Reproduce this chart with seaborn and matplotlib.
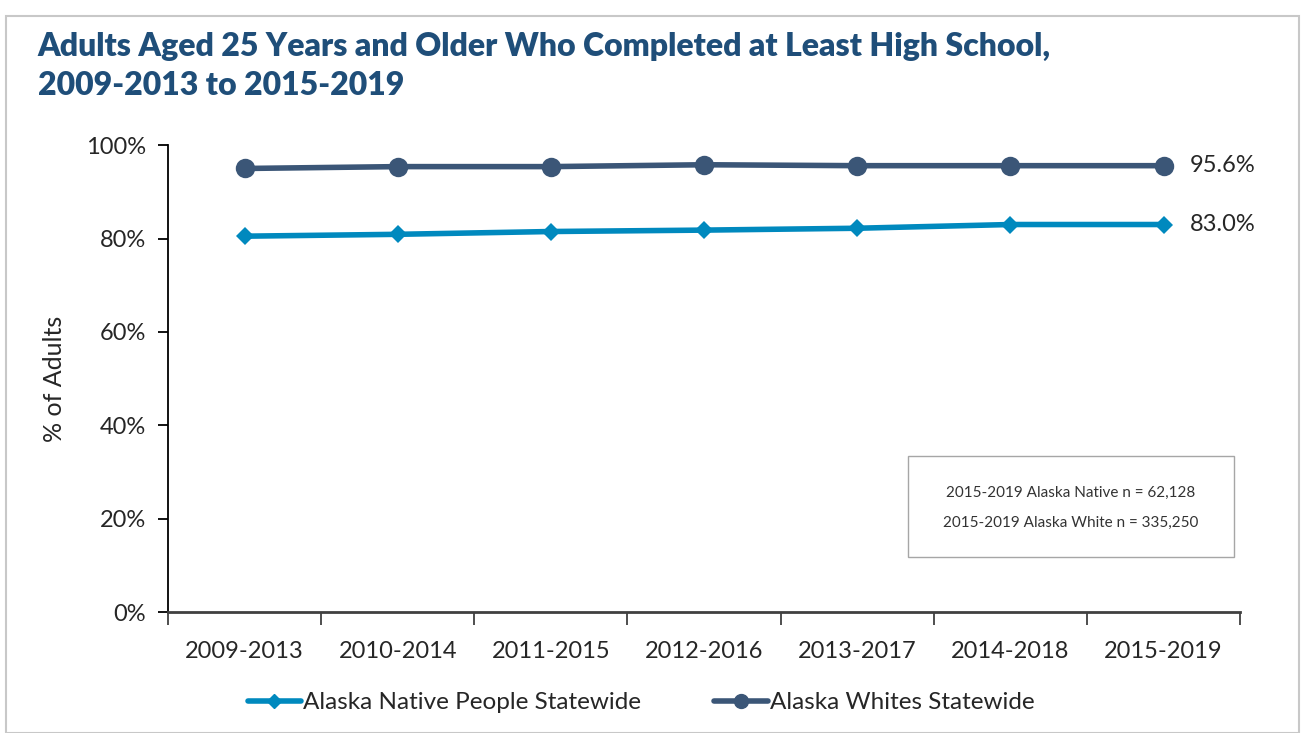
import pandas as pd
import matplotlib.pyplot as plt
import seaborn as sns
from matplotlib.patches import Rectangle
from matplotlib.ticker import FixedLocator, PercentFormatter

# data
periods = ["2009-2013", "2010-2014", "2011-2015", "2012-2016",
           "2013-2017", "2014-2018", "2015-2019"]
native = [80.5, 80.9, 81.5, 81.8, 82.2, 83.0, 83.0]
white = [95.0, 95.4, 95.4, 95.8, 95.6, 95.6, 95.6]
series_names = ["Alaska Native People Statewide", "Alaska Whites Statewide"]
box_lines = ["2015-2019 Alaska Native n = 62,128", "2015-2019 Alaska White n = 335,250"]

df = pd.DataFrame({
    "period": periods * 2,
    "pct": native + white,
    "group": [series_names[0]] * len(periods) + [series_names[1]] * len(periods),
})

sns.set_style("white")
plt.rcParams["font.family"] = ["Lato", "DejaVu Sans"]

colors = {series_names[0]: "#0089BE", series_names[1]: "#3B5677"}

fig = plt.figure(figsize=(13.06, 7.33), dpi=100)
ax = fig.add_axes([0.1286, 0.165, 0.821, 0.637])

sns.lineplot(data=df, x="period", y="pct", hue="group", style="group",
             palette=colors, markers={series_names[0]: "D", series_names[1]: "o"},
             dashes=False, linewidth=4, ax=ax, legend=False, sort=False)

# marker sizes differ per series
ax.lines[0].set_markersize(9)
ax.lines[1].set_markersize(14)
for ln in ax.lines:
    ln.set_markeredgewidth(0)

ax.set_ylim(0, 100)
ax.set_xlim(-0.5, len(periods) - 0.5)
ax.set_yticks(range(0, 101, 20))
ax.yaxis.set_major_formatter(PercentFormatter(decimals=0))
ax.set_xticks(range(len(periods)))
ax.set_xticklabels(periods)
ax.xaxis.set_minor_locator(FixedLocator([i - 0.5 for i in range(len(periods) + 1)]))
ax.tick_params(axis="x", which="major", length=0, pad=21, labelsize=17)
ax.tick_params(axis="x", which="minor", length=9, width=1.3, color="#404040", direction="out")
ax.tick_params(axis="y", length=7, width=1.3, color="black", direction="out", labelsize=17, pad=9)
ax.tick_params(bottom=True, left=True)
ax.xaxis.set_tick_params(which="minor", bottom=True)

for s in ["top", "right"]:
    ax.spines[s].set_visible(False)
ax.spines["left"].set_color("black")
ax.spines["left"].set_linewidth(1.3)
ax.spines["bottom"].set_color("#404040")
ax.spines["bottom"].set_linewidth(2)

ax.set_xlabel("")
ax.set_ylabel("% of Adults", fontsize=18, labelpad=14)

# end labels
last = len(periods) - 1
ax.text(last + 0.17, white[-1], f"{white[-1]:.1f}%", va="center", fontsize=17)
ax.text(last + 0.17, native[-1], f"{native[-1]:.1f}%", va="center", fontsize=17)

# sample size box
ax.add_patch(Rectangle((4.33, 11.7), 2.13, 21.8, facecolor="white",
                       edgecolor="#A6A6A6", linewidth=1, zorder=3))
ax.text(5.395, 25.6, box_lines[0], ha="center", va="center", fontsize=11, color="#333333", zorder=4)
ax.text(5.395, 19.1, box_lines[1], ha="center", va="center", fontsize=11, color="#333333", zorder=4)

# legend
handles = [plt.Line2D([], [], color=colors[series_names[0]], lw=4, marker="D", markersize=7),
           plt.Line2D([], [], color=colors[series_names[1]], lw=4, marker="o", markersize=10)]
fig.legend(handles, series_names, loc="center", bbox_to_anchor=(0.491, 0.041), ncol=2,
           frameon=False, fontsize=17.5, handlelength=2.2, handletextpad=0.1, columnspacing=3.0)

# title
fig.text(0.029, 0.937, "Adults Aged 25 Years and Older Who Completed at Least High School,",
         fontsize=23, fontweight="heavy", color="#1F4E79", va="center")
fig.text(0.029, 0.883, "2009-2013 to 2015-2019",
         fontsize=23, fontweight="heavy", color="#1F4E79", va="center")

# frame around the figure
fig.patches.append(Rectangle((0.0045, 0.0), 0.99, 0.978, transform=fig.transFigure,
                             fill=False, edgecolor="#C8C8C8", linewidth=1.5))

plt.savefig("out.png", dpi=100)
plt.close()
